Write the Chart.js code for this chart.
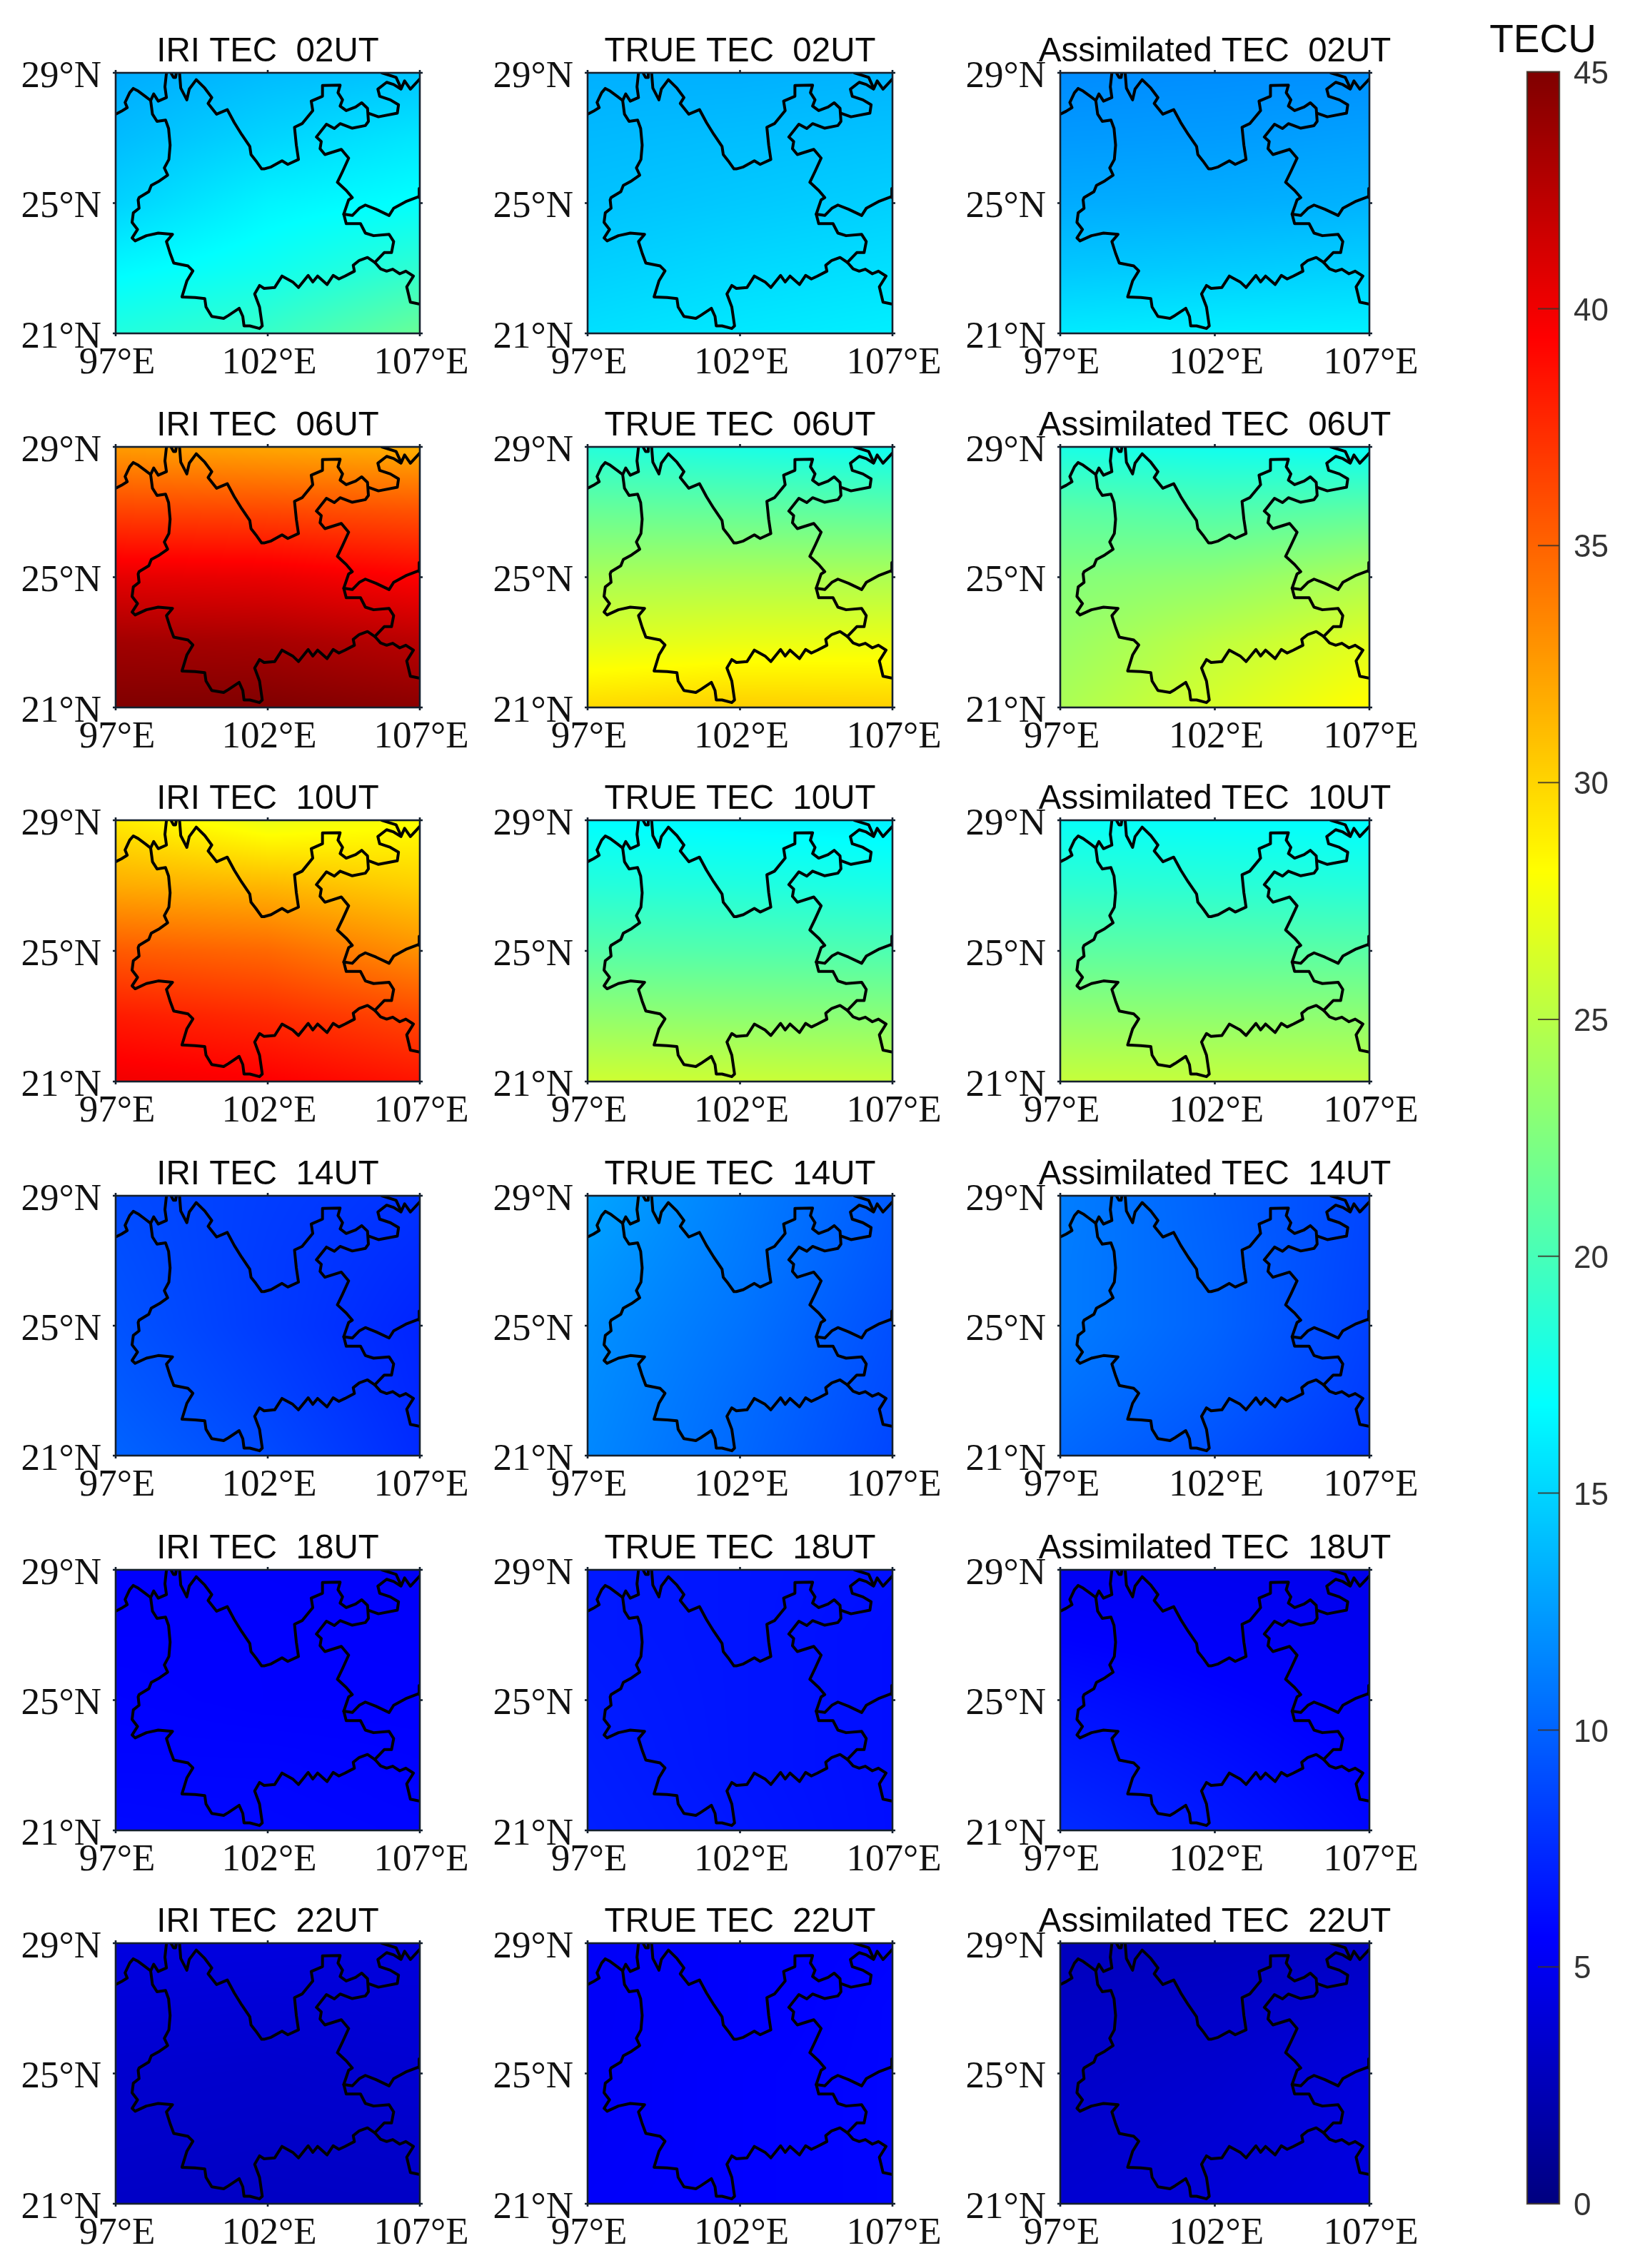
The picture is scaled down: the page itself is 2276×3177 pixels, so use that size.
<!DOCTYPE html>
<html><head><meta charset="utf-8">
<script src="https://cdn.jsdelivr.net/npm/chart.js@4"></script>
<style>
html,body{margin:0;padding:0;background:#fff;width:2276px;height:3177px;overflow:hidden}
canvas{position:absolute;display:block;filter:blur(0.6px)}
</style></head><body>
<script>
// ---------- DATA ----------
const lonTicks=[97,102,107];
const latTicks=[21,25,29];
const cbTicks=[0,5,10,15,20,25,30,35,40,45];
const nodeLons=[97,102,107];
const nodeLats=[29,27,25,23,21];
const hours=['02','06','10','14','18','22'];
const models=['IRI','TRUE','Assimilated'];

const IRI_02=[[13.2,13.9,14.3],[13.9,15.0,15.8],[14.9,16.4,17.0],[16.6,17.5,18.9],[18.3,19.3,21.5]];
const TRUE_02=[[13.4,13.4,13.6],[13.8,14.0,14.2],[14.2,14.5,14.8],[14.8,15.2,15.5],[15.5,15.9,16.2]];
const ASSIM_02=[[11.8,11.9,12.0],[12.4,12.5,12.7],[13.2,13.3,13.5],[14.4,14.6,14.8],[16.0,16.2,16.3]];
const IRI_06=[[32.5,32.0,31.6],[36.5,36.3,35.8],[40.5,40.3,39.4],[43.5,43.3,42.5],[45.0,45.0,44.5]];
const TRUE_06=[[18.5,18.0,17.5],[21.5,21.3,21.0],[24.3,24.5,24.5],[26.8,27.2,27.3],[29.8,30.3,30.2]];
const ASSIM_06=[[18.0,17.6,17.2],[20.9,20.5,21.0],[22.7,23.2,24.4],[23.6,25.3,26.8],[24.4,26.4,28.3]];
const IRI_10=[[29.0,27.2,28.0],[31.8,31.3,30.2],[35.4,34.8,33.0],[38.2,37.5,36.2],[40.0,39.5,38.5]];
const TRUE_10=[[16.8,16.5,16.3],[18.5,18.3,18.0],[20.7,20.5,20.3],[23.3,23.1,22.9],[26.0,25.8,25.6]];
const ASSIM_10=[[17.2,17.0,16.8],[18.9,18.7,18.5],[21.0,20.9,20.8],[23.3,23.2,23.1],[25.6,25.5,25.4]];
const IRI_14=[[8.9,8.3,7.8],[9.1,8.2,7.5],[9.3,8.2,7.2],[9.6,8.5,7.3],[10.0,8.9,7.5]];
const TRUE_14=[[12.9,11.2,9.6],[12.4,11.0,9.4],[12.0,10.7,9.1],[11.8,10.4,8.9],[11.6,10.2,8.7]];
const ASSIM_14=[[11.2,9.9,8.7],[11.1,10.0,8.6],[11.1,10.0,8.5],[10.7,9.7,8.3],[10.2,9.2,8.0]];
const IRI_18=[[5.5,5.5,5.4],[5.6,5.6,5.5],[5.7,5.6,5.6],[5.8,5.8,5.7],[6.0,5.9,5.8]];
const TRUE_18=[[6.7,6.5,6.3],[6.7,6.5,6.2],[6.8,6.5,6.2],[6.9,6.5,6.2],[7.0,6.6,6.2]];
const ASSIM_18=[[5.1,5.0,4.8],[5.6,5.3,5.0],[6.3,5.8,5.3],[6.9,6.3,5.6],[7.5,6.7,5.9]];
const IRI_22=[[4.3,4.2,4.1],[3.9,3.8,3.9],[3.5,3.4,3.6],[3.3,3.2,3.3],[3.1,3.0,3.1]];
const TRUE_22=[[5.3,5.5,5.7],[5.3,5.5,5.8],[5.3,5.6,5.8],[5.3,5.6,5.8],[5.4,5.6,5.8]];
const ASSIM_22=[[2.7,2.8,3.0],[3.0,3.2,3.6],[3.2,3.5,4.1],[3.4,3.7,4.2],[3.6,3.9,4.3]];
const heatTables=[
 [IRI_02,TRUE_02,ASSIM_02],[IRI_06,TRUE_06,ASSIM_06],[IRI_10,TRUE_10,ASSIM_10],
 [IRI_14,TRUE_14,ASSIM_14],[IRI_18,TRUE_18,ASSIM_18],[IRI_22,TRUE_22,ASSIM_22]];

// Borders, [lon,lat]
const borderWest=[[97.0,27.73],[97.19,27.82],[97.38,27.93],[97.31,28.09],[97.46,28.39],[97.58,28.52],[97.74,28.44],[97.97,28.28],[98.15,28.15],[98.25,28.35],[98.40,28.13],[98.67,28.24],[98.62,28.57],[98.67,29.0]];
const borderTopBlob=[[98.83,28.98],[98.90,28.86],[98.97,28.86],[98.99,28.98]];
const borderNorth=[[99.10,29.0],[99.14,28.53],[99.34,28.17],[99.42,28.50],[99.65,28.79],[99.93,28.53],[100.16,28.24],[100.04,28.06],[100.32,27.73],[100.67,27.87],[100.90,27.47],[101.14,27.11],[101.41,26.74],[101.45,26.49],[101.61,26.30],[101.80,26.05],[101.88,26.05],[102.11,26.11],[102.47,26.30],[102.66,26.19],[103.01,26.34],[102.94,26.78],[102.88,27.33],[103.13,27.44],[103.48,27.84],[103.43,28.13],[103.80,28.28],[103.80,28.61],[104.38,28.62],[104.31,28.39],[104.46,28.17],[104.38,27.98],[104.58,27.84],[104.89,27.95],[105.09,28.08],[105.28,27.91],[105.31,27.51],[105.21,27.38],[104.78,27.30],[104.38,27.44],[104.19,27.29],[103.93,27.42],[103.60,27.03],[103.76,26.89],[103.72,26.67],[103.88,26.49],[104.42,26.65],[104.66,26.38],[104.46,25.97],[104.29,25.64],[104.58,25.39],[104.78,25.17],[104.66,25.10],[104.50,24.66],[104.58,24.37],[105.05,24.37],[105.21,24.08],[105.48,24.00],[105.99,24.04],[106.14,23.82],[106.07,23.48],[105.83,23.48],[105.52,23.18]];
const borderSouth=[[105.52,23.18],[105.28,23.33],[105.01,23.24],[104.81,23.09],[104.85,22.91],[104.54,22.76],[104.34,22.67],[104.15,22.78],[103.95,22.50],[103.64,22.76],[103.48,22.58],[103.33,22.78],[103.01,22.41],[102.82,22.58],[102.47,22.76],[102.23,22.41],[101.88,22.38],[101.73,22.47],[101.57,22.21],[101.73,21.81],[101.82,21.23],[101.73,21.15],[101.41,21.23],[101.22,21.23],[101.18,21.52],[101.06,21.77],[100.71,21.55],[100.55,21.46],[100.16,21.52],[99.97,21.81],[99.93,22.07],[99.61,22.10],[99.18,22.12],[99.34,22.61],[99.54,22.92],[99.38,23.07],[98.91,23.16],[98.79,23.46],[98.67,23.82],[98.87,24.04],[98.40,24.08],[98.01,24.00],[97.64,23.84],[97.54,23.93],[97.72,24.19],[97.54,24.41],[97.58,24.70],[97.77,24.84],[97.74,25.10],[97.77,25.17],[98.09,25.35],[98.17,25.54],[98.44,25.68],[98.71,25.86],[98.60,26.08],[98.75,26.34],[98.79,26.78],[98.74,27.29],[98.64,27.55],[98.36,27.51],[98.21,27.73],[98.15,28.15]];
const borderSouthEast=[[105.52,23.18],[105.71,22.98],[105.91,22.91],[106.11,22.97],[106.34,22.83],[106.54,22.91],[106.79,22.76],[106.57,22.43],[106.69,21.96],[107.0,21.90]];
const borderGuizhou=[[104.50,24.66],[104.78,24.62],[105.01,24.84],[105.21,24.94],[105.56,24.81],[105.99,24.62],[106.14,24.84],[106.57,25.06],[107.0,25.21]];
const borderSichuan=[[105.31,27.76],[105.64,27.65],[106.26,27.76],[106.30,28.02],[106.03,28.17],[105.68,28.28],[105.62,28.50],[105.91,28.71],[106.14,28.64],[106.38,28.50],[106.50,28.75],[106.69,28.50],[107.0,28.81]];
const borderTopRight=[[105.75,29.0],[106.22,28.86],[106.38,28.53]];
const borderEdge=[[106.98,25.45],[106.98,25.17]];
const borderSegments=[borderWest,borderTopBlob,borderNorth,borderSouth,borderSouthEast,borderGuizhou,borderSichuan,borderTopRight,borderEdge];

// ---------- LAYOUT ----------
const colLeft=[162,823,1485], colWidth=[426,427,433];
const rowTop=[102,626,1149,1675,2199,2722], rowHeight=[365,365,366,364,365,365];
const MARGIN=162, TOPM=90, BOTM=80;

function jet(v){
  const t=Math.max(0,Math.min(1,v/45));
  const c=x=>Math.round(255*Math.max(0,Math.min(1,1.5-Math.abs(4*t-x))));
  return [c(3),c(2),c(1)];
}
const heatPlugin={id:'heat',beforeDatasetsDraw(chart){
  const ds=chart.data.datasets[0]; if(!ds||!ds.grid)return;
  const {ctx,chartArea:a,scales:{x,y}}=chart;
  const W=Math.round(a.right-a.left),H=Math.round(a.bottom-a.top);
  const img=ctx.createImageData(W,H),g=ds.grid;
  for(let j=0;j<H;j++){
    const lat=y.getValueForPixel(a.top+j+.5);
    let fy=(nodeLats[0]-lat)/(nodeLats[0]-nodeLats[nodeLats.length-1])*(nodeLats.length-1);
    fy=Math.max(0,Math.min(nodeLats.length-1.0001,fy));const j0=Math.floor(fy),ty=fy-j0;
    for(let i=0;i<W;i++){
      const lon=x.getValueForPixel(a.left+i+.5);
      let fx=(lon-nodeLons[0])/(nodeLons[nodeLons.length-1]-nodeLons[0])*(nodeLons.length-1);
      fx=Math.max(0,Math.min(nodeLons.length-1.0001,fx));const i0=Math.floor(fx),tx=fx-i0;
      const v=(g[j0][i0]*(1-tx)+g[j0][i0+1]*tx)*(1-ty)+(g[j0+1][i0]*(1-tx)+g[j0+1][i0+1]*tx)*ty;
      const c=jet(v),k=(j*W+i)*4;
      img.data[k]=c[0];img.data[k+1]=c[1];img.data[k+2]=c[2];img.data[k+3]=255;
    }
  }
  ctx.putImageData(img,Math.round(a.left),Math.round(a.top));
},afterDatasetsDraw(chart){
  const {ctx,chartArea:a,scales:{x,y}}=chart;
  ctx.save();ctx.strokeStyle='#14202e';ctx.lineWidth=2.6;
  ctx.strokeRect(a.left,a.top,a.right-a.left,a.bottom-a.top);
  ctx.beginPath();
  lonTicks.forEach(v=>{const p=x.getPixelForValue(v);ctx.moveTo(p,a.top-4);ctx.lineTo(p,a.top);ctx.moveTo(p,a.bottom);ctx.lineTo(p,a.bottom+4);});
  latTicks.forEach(v=>{const p=y.getPixelForValue(v);ctx.moveTo(a.left-4,p);ctx.lineTo(a.left,p);ctx.moveTo(a.right,p);ctx.lineTo(a.right+4,p);});
  ctx.stroke();ctx.restore();
}};

function panel(r,c){
  const w=colWidth[c],h=rowHeight[r];
  const cv=document.createElement('canvas');
  cv.width=w+2*MARGIN;cv.height=TOPM+h+BOTM;
  cv.style.left=(colLeft[c]-MARGIN)+'px';cv.style.top=(rowTop[r]-TOPM)+'px';
  document.body.appendChild(cv);
  const grid=heatTables[r][c];
  const nodes=[];nodeLats.forEach((la,j)=>nodeLons.forEach((lo,i)=>nodes.push({x:lo,y:la,v:grid[j][i]})));
  const datasets=[{label:'TEC',data:nodes,grid:grid,pointRadius:0,showLine:false}];
  borderSegments.forEach(s=>datasets.push({label:'border',data:s.map(p=>({x:p[0],y:p[1]})),showLine:true,borderColor:'#000',borderWidth:4,pointRadius:0,tension:0,borderJoinStyle:'round',borderCapStyle:'round'}));
  new Chart(cv,{type:'scatter',data:{datasets},plugins:[heatPlugin],options:{
    responsive:false,animation:false,events:[],
    layout:{autoPadding:false,padding:0},
    plugins:{legend:{display:false},tooltip:{enabled:false},
      title:{display:true,text:models[c]+' TEC  '+hours[r]+'UT',color:'#0a0a0a',
        font:{family:'"Liberation Sans",Arial,sans-serif',size:47.5,weight:'normal',lineHeight:1.2},padding:{top:32.5,bottom:0.5}}},
    scales:{
      x:{type:'linear',min:97,max:107,grid:{display:false},border:{display:false},
        afterBuildTicks(s){s.ticks=lonTicks.map(v=>({value:v}));},
        afterFit(s){s.height=BOTM;},
        ticks:{autoSkip:false,maxRotation:0,padding:2,labelOffset:2,color:'#111',font:{family:'"Liberation Serif","Times New Roman",serif',size:53},callback:v=>v+'°E'}},
      y:{type:'linear',min:21,max:29,grid:{display:false},border:{display:false},
        afterBuildTicks(s){s.ticks=latTicks.map(v=>({value:v}));},
        afterFit(s){s.width=MARGIN;},
        ticks:{autoSkip:false,padding:12,labelOffset:6,color:'#111',font:{family:'"Liberation Serif","Times New Roman",serif',size:53},callback:v=>v+'°N'}},
      spacer:{type:'linear',position:'right',min:0,max:1,grid:{display:false},border:{display:false},ticks:{display:false},afterFit(s){s.width=MARGIN;}}
    }}});
}
for(let r=0;r<6;r++)for(let c=0;c<3;c++)panel(r,c);

// ---------- COLOUR BAR ----------
const barPlugin={id:'bar',beforeDatasetsDraw(chart){
  const {ctx,chartArea:a,scales:{y}}=chart;
  ctx.save();
  for(let p=Math.floor(a.top);p<a.bottom;p++){
    const c=jet(y.getValueForPixel(p+.5));
    ctx.fillStyle=`rgb(${c[0]},${c[1]},${c[2]})`;ctx.fillRect(a.left,p,a.right-a.left,1.2);
  }
  ctx.strokeStyle='rgba(60,50,40,.85)';ctx.lineWidth=2;
  ctx.beginPath();
  cbTicks.slice(1,-1).forEach(v=>{const p=y.getPixelForValue(v);ctx.moveTo(a.right-30,p);ctx.lineTo(a.right,p);});
  ctx.stroke();
  ctx.lineWidth=2.4;ctx.strokeRect(a.left,a.top,a.right-a.left,a.bottom-a.top);
  ctx.restore();
}};
(function(){
  const cv=document.createElement('canvas');cv.width=230;cv.height=3177;
  cv.style.left='2046px';cv.style.top='0px';document.body.appendChild(cv);
  new Chart(cv,{type:'scatter',data:{datasets:[{data:cbTicks.map(v=>({x:0,y:v})),pointRadius:0,showLine:false}]},plugins:[barPlugin],options:{
    responsive:false,animation:false,events:[],
    layout:{autoPadding:false,padding:{left:0,right:0,top:0,bottom:90}},
    plugins:{legend:{display:false},tooltip:{enabled:false},
      title:{display:true,text:'TECU',color:'#0a0a0a',font:{family:'"Liberation Sans",Arial,sans-serif',size:55,weight:'normal',lineHeight:1.2},padding:{top:25,bottom:9.7}}},
    scales:{
      x:{display:false,min:-1,max:1},
      y:{position:'right',min:0,max:45,grid:{display:false},border:{display:false},
        afterBuildTicks(s){s.ticks=cbTicks.map(v=>({value:v}));},
        afterFit(s){s.width=92;},
        ticks:{autoSkip:false,padding:12,labelOffset:4,color:'#333',font:{family:'"Liberation Sans",Arial,sans-serif',size:44}}},
      spacer:{type:'linear',position:'left',min:0,max:1,grid:{display:false},border:{display:false},ticks:{display:false},afterFit(s){s.width=93;}}
    }}});
})();
</script>
</body></html>
